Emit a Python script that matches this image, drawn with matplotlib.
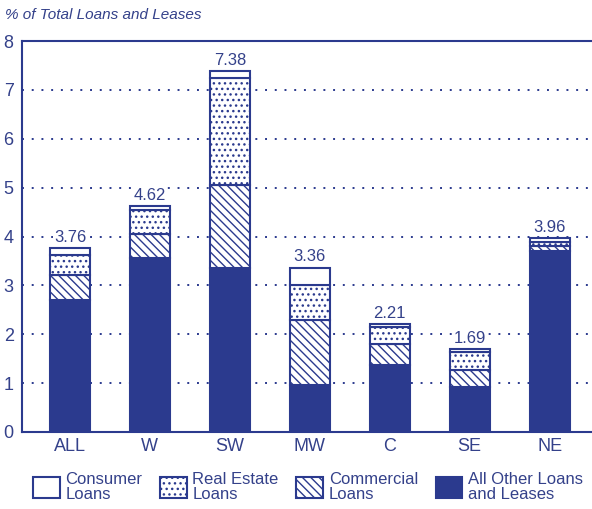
import numpy as np
import matplotlib.pyplot as plt
from matplotlib.patches import Patch

regions = ['ALL', 'W', 'SW', 'MW', 'C', 'SE', 'NE']
all_other = [2.70, 3.56, 3.35, 0.96, 1.37, 0.93, 3.70]
commercial = [0.51, 0.50, 1.70, 1.33, 0.43, 0.34, 0.10]
real_estate = [0.41, 0.48, 2.20, 0.71, 0.35, 0.36, 0.08]
consumer = [0.14, 0.08, 0.13, 0.36, 0.06, 0.06, 0.08]
totals = ['3.76', '4.62', '7.38', '3.36', '2.21', '1.69', '3.96']

blue = '#2b3a8e'
txt = '#34418a'

plt.rcParams['font.family'] = ['Liberation Sans', 'DejaVu Sans']
plt.rcParams['hatch.color'] = blue
plt.rcParams['hatch.linewidth'] = 1.0

fig = plt.figure(figsize=(5.92, 5.09), dpi=100)
ax = fig.add_axes([22/592, 1 - 432/509, 1 - 22/592, (432 - 41)/509])

x = np.arange(len(regions))
w = 0.5
b1 = np.array(all_other)
b2 = b1 + np.array(commercial)
b3 = b2 + np.array(real_estate)

ax.bar(x, all_other, w, color=blue, edgecolor=blue, linewidth=1.5, zorder=3)
ax.bar(x, commercial, w, bottom=b1, color='white', edgecolor=blue, hatch='\\\\\\\\', linewidth=1.5, zorder=3)
ax.bar(x, real_estate, w, bottom=b2, color='white', edgecolor=blue, hatch='...', linewidth=1.5, zorder=3)
ax.bar(x, consumer, w, bottom=b3, color='white', edgecolor=blue, linewidth=1.5, zorder=3)

# total labels, white box hides the dotted grid behind them
tops = b3 + np.array(consumer)
for xi, t, lab in zip(x, tops, totals):
    ax.text(xi, t + 0.07, lab, ha='center', va='bottom', fontsize=12, color=txt, zorder=4,
            bbox=dict(facecolor='white', edgecolor='none', pad=0.5))

ax.set_xlim(-0.6, 6.53)
ax.set_ylim(0, 8)
ax.set_yticks(range(0, 9))
ax.set_xticks(x)
ax.set_xticklabels(regions)
ax.tick_params(axis='both', length=0, labelsize=13, labelcolor=txt, pad=4)
ax.tick_params(axis='y', pad=6)
for yv in range(1, 8):
    ax.axhline(yv, color=blue, linestyle=(0, (1, 4)), linewidth=1.4, zorder=1)

ax.spines['right'].set_visible(False)
for s in ['left', 'top', 'bottom']:
    ax.spines[s].set_color(blue)
    ax.spines[s].set_linewidth(1.5)

fig.text(5/592, 1 - 15/509, '% of Total Loans and Leases', fontsize=11, style='italic',
         color=txt, va='center', ha='left')

handles = [
    Patch(facecolor='white', edgecolor=blue, linewidth=1.5),
    Patch(facecolor='white', edgecolor=blue, hatch='...', linewidth=1.5),
    Patch(facecolor='white', edgecolor=blue, hatch='\\\\\\\\', linewidth=1.5),
    Patch(facecolor=blue, edgecolor=blue, linewidth=1.5),
]
labels = ['Consumer\nLoans', 'Real Estate\nLoans', 'Commercial\nLoans', 'All Other Loans\nand Leases']
leg = fig.legend(handles, labels, loc='center left', bbox_to_anchor=(18/592, 1 - 487/509),
                 ncol=4, frameon=False, fontsize=12, handlelength=1.6, handleheight=1.6,
                 handletextpad=0.35, columnspacing=1.05, labelspacing=0)
for t in leg.get_texts():
    t.set_color(txt)
    t.set_linespacing(0.95)

fig.savefig('out.png', dpi=100)
